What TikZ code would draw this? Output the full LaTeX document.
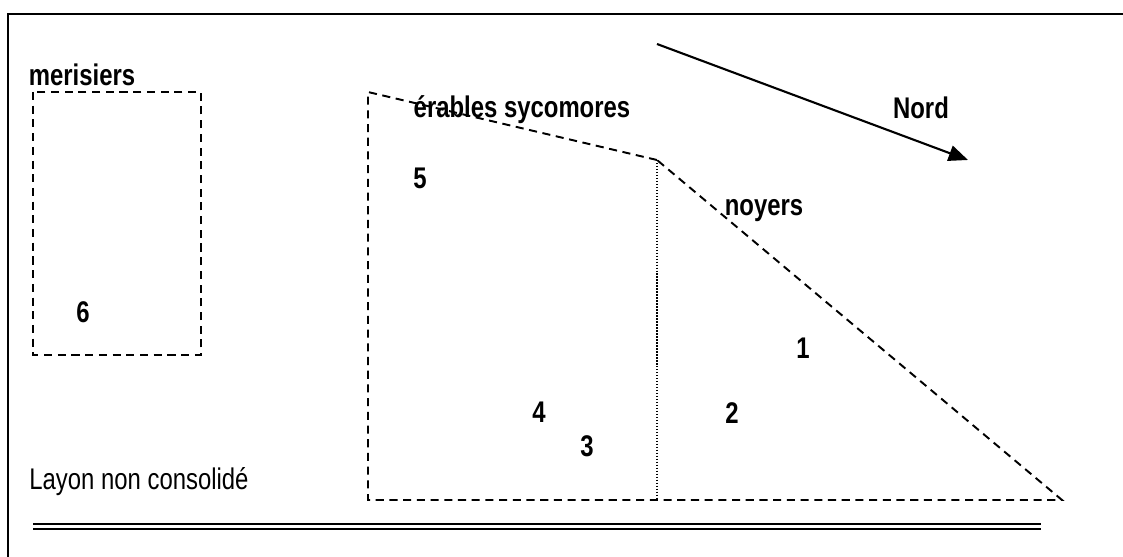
\documentclass[tikz,border=0pt]{standalone}
\usepackage{fontspec}
\setmainfont{Liberation Sans}[FakeStretch=0.8]
\usetikzlibrary{arrows.meta}

\tikzset{
  parcelle/.style={line width=1.1pt, dash pattern=on 4.6pt off 3.2pt},
  limite/.style={line width=0.9pt, dash pattern=on 0.8pt off 0.9pt},
  titre/.style={font=\fontsize{17}{20}\selectfont\bfseries, inner sep=0pt},
  arbre/.style={font=\fontsize{17}{20}\selectfont\bfseries, inner sep=0pt},
  legende/.style={font=\fontsize{17}{20}\selectfont, inner sep=0pt}
}

\begin{document}
\begin{tikzpicture}[x=0.02cm, y=-0.02cm]
\useasboundingbox (0,0) rectangle (1123,557);
% cadre
\coordinate (cadreNE) at (1130,14);
\coordinate (cadreNW) at (8,14);
\coordinate (cadreSW) at (8,565);
\draw[line width=1.6pt] (cadreNE) -- (cadreNW) -- (cadreSW);

% merisiers
\coordinate (merA) at (33,92);
\coordinate (merB) at (201,355);
\draw[parcelle] (merA) rectangle (merB);
\node[titre] (merisiers) at (82,75) {merisiers};
\node[arbre] (n6) at (83,312) {6};

% erables et noyers
\coordinate (erNW) at (368,92);
\coordinate (erNE) at (657,160);
\coordinate (noSE) at (1062,500);
\coordinate (erSW) at (368,500);
\coordinate (midS) at (657,500);
\draw[parcelle] (erNE) -- (erNW) -- (erSW) -- (noSE) -- (erNE);
\draw[limite] (erNE) -- (midS);
\node[titre] (erables) at (522,110) {érables sycomores};
\node[titre] (noyers) at (764,211) {noyers};
\node[arbre] (n5) at (420,178) {5};
\node[arbre] (n4) at (539,412) {4};
\node[arbre] (n3) at (587,446) {3};
\node[arbre] (n2) at (732,413) {2};
\node[arbre] (n1) at (803,348) {1};

% nord
\coordinate (nordA) at (657,44);
\coordinate (nordB) at (968,160);
\draw[line width=1.2pt, -{Triangle[length=11pt,width=9pt]}] (nordA) -- (nordB);
\node[titre] (nord) at (921,108) {Nord};

% layon
\node[legende] (layon) at (139,482) {Layon non consolidé};
\coordinate (layonW) at (33,526.5);
\coordinate (layonE) at (1041,526.5);
\draw[line width=1.2pt, double, double distance=1.6pt] (layonW) -- (layonE);
\end{tikzpicture}
\end{document}
